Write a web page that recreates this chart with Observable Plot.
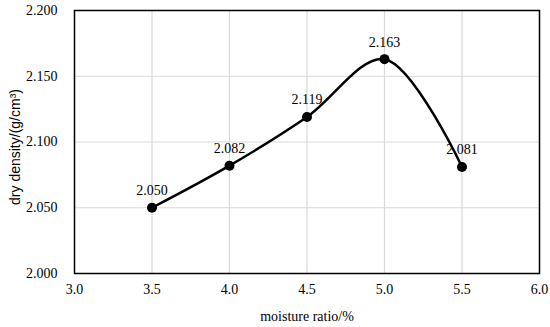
<!DOCTYPE html>
<html>
<head>
<meta charset="utf-8">
<script src="https://cdn.jsdelivr.net/npm/d3@7"></script>
<script src="https://cdn.jsdelivr.net/npm/@observablehq/plot@0.6"></script>
<style>
  body { margin: 0; background: #fff; }
</style>
</head>
<body>
<div id="chart"></div>
<script>
const moisture = [3.5, 4.0, 4.5, 5.0, 5.5];
const density = [2.050, 2.082, 2.119, 2.163, 2.081];
const xTicks = [3.0, 3.5, 4.0, 4.5, 5.0, 5.5, 6.0];
const yTicks = [2.000, 2.050, 2.100, 2.150, 2.200];

const data = moisture.map((m, i) => ({x: m, y: density[i]}));
const serif = "'Liberation Serif', 'Times New Roman', serif";
const sans = "'Liberation Sans', Arial, sans-serif";

const chart = Plot.plot({
  width: 550,
  height: 327,
  marginLeft: 74,
  marginRight: 11,
  marginTop: 10,
  marginBottom: 54,
  x: {domain: [3.0, 6.0]},
  y: {domain: [2.000, 2.200]},
  marks: [
    Plot.gridX(xTicks, {stroke: "#d9d9d9", strokeOpacity: 1, strokeWidth: 1.2}),
    Plot.gridY(yTicks, {stroke: "#d9d9d9", strokeOpacity: 1, strokeWidth: 1.2}),
    Plot.axisX(xTicks, {tickSize: 0, tickPadding: 11, tickFormat: d3.format(".1f"), fontSize: 14, fontFamily: serif, fill: "#000", label: null}),
    Plot.axisY(yTicks, {tickSize: 0, tickPadding: 17, tickFormat: d3.format(".3f"), fontSize: 14, fontFamily: serif, fill: "#000", label: null}),
    Plot.text(["moisture ratio/%"], {frameAnchor: "bottom", dy: 47, fontSize: 14, fontFamily: serif, fill: "#000"}),
    Plot.text(["dry density/(g/cm³)"], {frameAnchor: "left", textAnchor: "middle", dx: -59, dy: 5, rotate: -90, fontSize: 14, fontFamily: sans, fill: "#000"}),
    Plot.frame({stroke: "#000", strokeWidth: 1.5}),
    Plot.line(data, {x: "x", y: "y", curve: "catmull-rom", stroke: "#000", strokeWidth: 2.5}),
    Plot.dot(data, {x: "x", y: "y", r: 5, fill: "#000", stroke: "none"}),
    Plot.text(data, {x: "x", y: "y", text: d => d3.format(".3f")(d.y), dy: -17, fontSize: 14, fontFamily: serif, fill: "#000"})
  ]
});
document.getElementById("chart").appendChild(chart);
</script>
</body>
</html>
